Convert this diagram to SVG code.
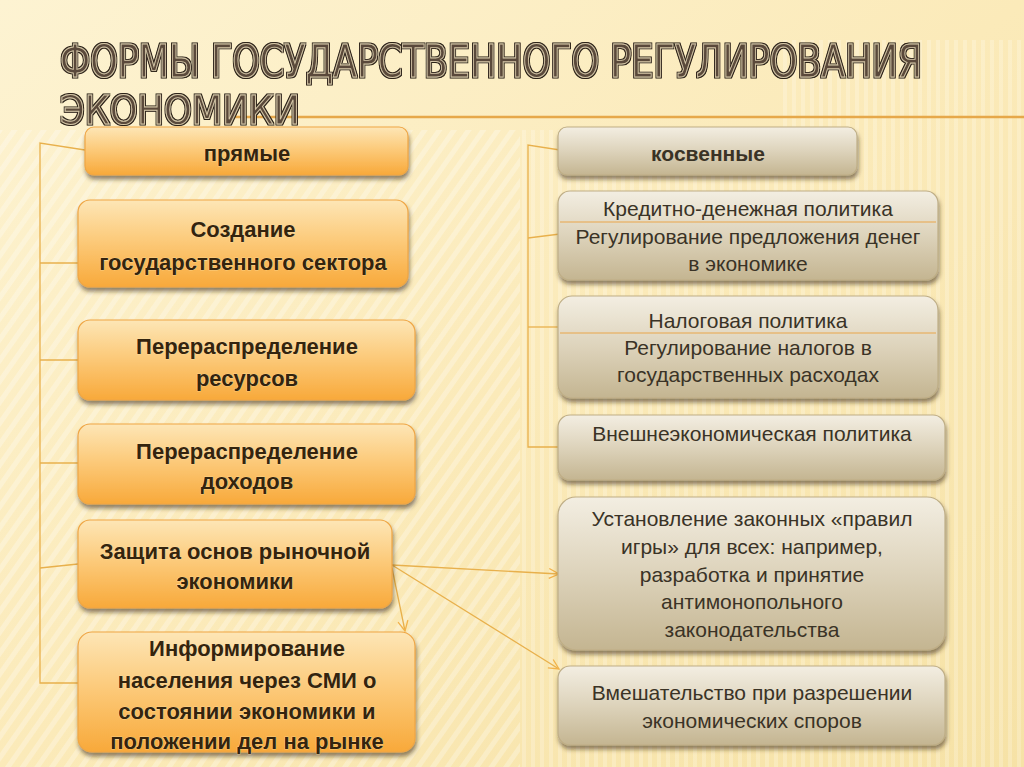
<svg xmlns="http://www.w3.org/2000/svg" width="1024" height="767" viewBox="0 0 1024 767">
<defs>
<linearGradient id="bg" x1="0" y1="0" x2="1" y2="1">
<stop offset="0" stop-color="#fdf3d2"/>
<stop offset="0.5" stop-color="#fbeab9"/>
<stop offset="1" stop-color="#f6e2a6"/>
</linearGradient>
<pattern id="diag" width="12" height="12" patternUnits="userSpaceOnUse" patternTransform="rotate(35)">
<rect width="5" height="12" fill="#ffffff" opacity="0.4"/>
</pattern>
<pattern id="vert" width="9" height="10" patternUnits="userSpaceOnUse">
<rect width="4" height="10" fill="#ffffff" opacity="0.35"/>
</pattern>
<mask id="mLeft"><path d="M0,130 H520 V767 H0 Z" fill="#fff"/></mask>
<mask id="mRight"><path d="M520,130 H1024 V767 H520 Z M780,40 H1024 V130 H780 Z" fill="#fff"/></mask>
<linearGradient id="og" x1="0" y1="0" x2="0" y2="1">
<stop offset="0" stop-color="#fde6b6"/>
<stop offset="0.45" stop-color="#fccb7c"/>
<stop offset="1" stop-color="#f8a93a"/>
</linearGradient>
<linearGradient id="gg" x1="0" y1="0" x2="0" y2="1">
<stop offset="0" stop-color="#f3eee2"/>
<stop offset="0.5" stop-color="#ddd3bb"/>
<stop offset="1" stop-color="#c4b591"/>
</linearGradient>
<filter id="sh" x="-10%" y="-20%" width="120%" height="150%">
<feDropShadow dx="1" dy="4" stdDeviation="2" flood-color="#3a2a10" flood-opacity="0.55"/>
</filter>
<filter id="outl" x="-5%" y="-20%" width="110%" height="140%">
<feMorphology in="SourceAlpha" operator="dilate" radius="1.1" result="d"/>
<feFlood flood-color="#2a2016"/>
<feComposite in2="d" operator="in" result="o"/>
<feMerge><feMergeNode in="o"/><feMergeNode in="SourceGraphic"/></feMerge>
</filter>
<marker id="ar" viewBox="0 0 12 12" refX="11" refY="6" markerWidth="12" markerHeight="12" markerUnits="userSpaceOnUse" orient="auto">
<path d="M1,1 L11,6 L1,11" fill="none" stroke="#f2b24a" stroke-width="1.3"/>
</marker>
<style>
.ob{fill:url(#og);stroke:#efa645;stroke-width:1.2;filter:url(#sh)}
.gb{fill:url(#gg);stroke:#bfae86;stroke-width:1.2;filter:url(#sh)}
.ot{font-family:"Liberation Sans",Arial,sans-serif;font-weight:bold;font-size:22px;fill:#34240e;text-anchor:middle;stroke:#fbe2b0;stroke-width:0.6;paint-order:stroke}
.gt{font-family:"Liberation Sans",Arial,sans-serif;font-size:21px;fill:#3a3326;text-anchor:middle}
.sep{stroke:#e9a54a;stroke-width:1.2}
.cn{fill:none;stroke:#e8b04c;stroke-width:1.3}
.ttl{font-family:"Liberation Sans Narrow","DejaVu Sans Condensed","Liberation Sans",sans-serif;font-weight:normal;fill:#5a4a3a;stroke:#d6c7a8;stroke-width:0.7;filter:url(#outl)}
</style>
</defs>
<rect width="1024" height="767" fill="url(#bg)"/>
<rect width="1024" height="767" fill="url(#diag)" opacity="0.7" mask="url(#mLeft)"/>
<rect width="1024" height="767" fill="url(#vert)" opacity="0.6" mask="url(#mRight)"/>

<g id="title">
<line x1="227" y1="117" x2="1024" y2="117" stroke="#e6a84a" stroke-width="2.5"/>
<text class="ttl" transform="translate(60,76.5) scale(1,1.3)" x="0" y="0" font-size="34" textLength="862" lengthAdjust="spacingAndGlyphs">ФОРМЫ ГОСУДАРСТВЕННОГО РЕГУЛИРОВАНИЯ</text>
<text class="ttl" transform="translate(60,123.5) scale(1,1.3)" x="0" y="0" font-size="30" textLength="240" lengthAdjust="spacingAndGlyphs">ЭКОНОМИКИ</text>
</g>

<g id="connectors">
<polyline class="cn" points="85,150 40,143 40,683 78,683"/>
<line class="cn" x1="40" y1="263" x2="78" y2="263"/>
<line class="cn" x1="40" y1="360" x2="78" y2="360"/>
<line class="cn" x1="40" y1="463" x2="78" y2="463"/>
<line class="cn" x1="40" y1="568" x2="78" y2="564"/>
<polyline class="cn" points="560,150 528,145 528,447 560,447"/>
<line class="cn" x1="528" y1="238" x2="560" y2="234"/>
<line class="cn" x1="528" y1="327" x2="560" y2="327"/>
<line class="cn" x1="392" y1="565" x2="559" y2="574" marker-end="url(#ar)"/>
<line class="cn" x1="392" y1="565" x2="559" y2="669" marker-end="url(#ar)"/>
<line class="cn" x1="392" y1="568" x2="405" y2="631" marker-end="url(#ar)"/>
</g>

<g id="n-pryamye">
<rect class="ob" x="85" y="127" width="323" height="48" rx="9"/>
<text class="ot" x="247" y="161">прямые</text>
</g>
<g id="n-sozdanie">
<rect class="ob" x="78" y="200" width="330" height="87" rx="12"/>
<text class="ot" x="243" y="237">Создание</text>
<text class="ot" x="243" y="270">государственного сектора</text>
</g>
<g id="n-resursy">
<rect class="ob" x="78" y="320" width="337" height="80" rx="12"/>
<text class="ot" x="247" y="354">Перераспределение</text>
<text class="ot" x="247" y="386">ресурсов</text>
</g>
<g id="n-dohody">
<rect class="ob" x="78" y="424" width="337" height="80" rx="12"/>
<text class="ot" x="247" y="459">Перераспределение</text>
<text class="ot" x="247" y="489">доходов</text>
</g>
<g id="n-zashita">
<rect class="ob" x="78" y="520" width="314" height="88" rx="12"/>
<text class="ot" x="235" y="559">Защита основ рыночной</text>
<text class="ot" x="235" y="589">экономики</text>
</g>
<g id="n-inform">
<rect class="ob" x="78" y="632" width="337" height="120" rx="14"/>
<text class="ot" x="247" y="656">Информирование</text>
<text class="ot" x="247" y="688">населения через СМИ о</text>
<text class="ot" x="247" y="719">состоянии экономики и</text>
<text class="ot" x="247" y="749">положении дел на рынке</text>
</g>

<g id="n-kosvennye">
<rect class="gb" x="558" y="127" width="299" height="48" rx="9"/>
<text class="gt" x="708" y="161" style="font-weight:bold">косвенные</text>
</g>
<g id="n-kredit">
<rect class="gb" x="558" y="191" width="380" height="89" rx="12"/>
<line class="sep" x1="560" y1="222" x2="936" y2="222"/>
<text class="gt" x="748" y="216">Кредитно-денежная политика</text>
<text class="gt" x="748" y="244">Регулирование предложения денег</text>
<text class="gt" x="748" y="271">в экономике</text>
</g>
<g id="n-nalog">
<rect class="gb" x="558" y="296" width="380" height="102" rx="14"/>
<line class="sep" x1="560" y1="333" x2="936" y2="333"/>
<text class="gt" x="748" y="328">Налоговая политика</text>
<text class="gt" x="748" y="355">Регулирование налогов в</text>
<text class="gt" x="748" y="382">государственных расходах</text>
</g>
<g id="n-vneshne">
<rect class="gb" x="558" y="415" width="387" height="65" rx="12"/>
<text class="gt" x="752" y="441">Внешнеэкономическая политика</text>
</g>
<g id="n-pravila">
<rect class="gb" x="558" y="497" width="387" height="153" rx="18"/>
<text class="gt" x="752" y="526">Установление законных «правил</text>
<text class="gt" x="752" y="554">игры» для всех: например,</text>
<text class="gt" x="752" y="582">разработка и принятие</text>
<text class="gt" x="752" y="609">антимонопольного</text>
<text class="gt" x="752" y="637">законодательства</text>
</g>
<g id="n-vmesh">
<rect class="gb" x="558" y="666" width="387" height="79" rx="12"/>
<text class="gt" x="752" y="700">Вмешательство при разрешении</text>
<text class="gt" x="752" y="728">экономических споров</text>
</g>
</svg>
